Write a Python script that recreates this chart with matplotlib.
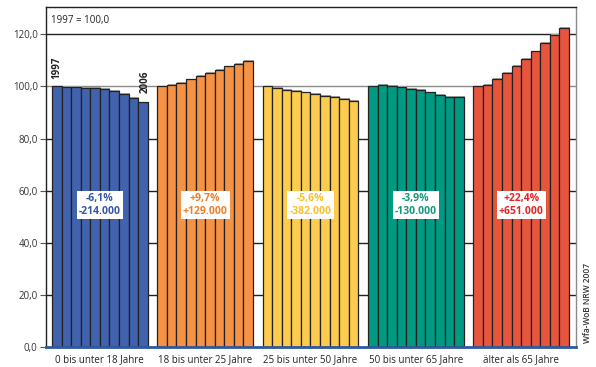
import matplotlib
matplotlib.use("Agg")
import matplotlib.pyplot as plt

plt.rcParams['font.family'] = ['Open Sans', 'DejaVu Sans']

categories = ["0 bis unter 18 Jahre", "18 bis unter 25 Jahre", "25 bis unter 50 Jahre",
              "50 bis unter 65 Jahre", "älter als 65 Jahre"]
years = list(range(1997, 2007))
blue = [100.0, 99.8, 99.8, 99.6, 99.6, 99.1, 98.4, 97.2, 95.7, 93.9]
orange = [100.0, 100.5, 101.3, 102.7, 104.0, 105.2, 106.3, 107.7, 108.7, 109.7]
yellow = [100.0, 99.5, 98.8, 98.2, 97.7, 97.2, 96.5, 95.9, 95.1, 94.4]
teal = [100.0, 100.5, 100.2, 99.8, 99.0, 98.6, 97.7, 96.8, 95.9, 96.1]
red = [100.0, 100.6, 102.8, 105.3, 108.0, 110.5, 113.5, 116.7, 119.9, 122.4]
series = [blue, orange, yellow, teal, red]
pct_labels = ["-6,1%", "+9,7%", "-5,6%", "-3,9%", "+22,4%"]
abs_labels = ["-214.000", "+129.000", "-382.000", "-130.000", "+651.000"]
yticks = [0, 20, 40, 60, 80, 100, 120]
ytick_labels = ["0,0", "20,0", "40,0", "60,0", "80,0", "100,0", "120,0"]

bar_colors = ['#4163ae', '#f59244', '#fdcc4f', '#009a82', '#e8553d']
text_colors = ['#3358a6', '#f07f2a', '#fcbf2a', '#15977f', '#e32629']

fig = plt.figure(figsize=(5.96, 3.67), dpi=100)
ax = fig.add_axes([46/596, 20/367, 530/596, 340/367])

gap = 11
for g, vals in enumerate(series):
    xs = [g * gap + i for i in range(len(vals))]
    # shadow
    ax.bar([x + 0.1 for x in xs], [v + 0.3 for v in vals], width=1.0,
           color='#a8a8a8', edgecolor='none', zorder=2)
    ax.bar(xs, vals, width=1.0, color=bar_colors[g], edgecolor='#222222',
           linewidth=0.9, zorder=3)
    cx = g * gap + 4.5
    ax.text(cx, 54.5, pct_labels[g] + "\n" + abs_labels[g], ha='center', va='center',
            fontsize=7.5, fontweight='bold', color=text_colors[g], linespacing=1.3,
            bbox=dict(facecolor='white', edgecolor='none', pad=1.5), zorder=5)

# year labels
ax.text(0, 102.8, str(years[0]), rotation=90, ha='center', va='bottom',
        fontsize=7, fontweight='bold', color='#222222', zorder=5)
ax.text(9.25, 97.6, str(years[-1]), rotation=90, ha='center', va='bottom',
        fontsize=7, fontweight='bold', color='#222222', zorder=5)

# grid lines
for y in yticks[1:]:
    col = '#8a8a8a' if y == 100 else '#222222'
    ax.axhline(y, color=col, linewidth=1.0, zorder=1)

ax.set_ylim(0, 130.5)
ax.set_xlim(-1.125, 54.23)
ax.set_yticks(yticks)
ax.set_yticklabels(ytick_labels, fontsize=7, color='#333333')
ax.tick_params(axis='y', length=4, width=0.8, color='#555555', pad=2)
ax.set_xticks([g * gap + 4.5 for g in range(5)])
ax.set_xticklabels(categories, fontsize=7, color='#222222')
ax.tick_params(axis='x', length=0, pad=5)

ax.spines['left'].set_color('#222222')
ax.spines['left'].set_linewidth(1.0)
ax.spines['top'].set_color('#222222')
ax.spines['top'].set_linewidth(1.0)
ax.spines['right'].set_color('#8a8a8a')
ax.spines['right'].set_linewidth(1.0)
ax.spines['bottom'].set_color('#2f58a0')
ax.spines['bottom'].set_linewidth(2.0)
ax.spines['bottom'].set_zorder(6)

ax.text(0.01, 0.975, "1997 = 100,0", transform=ax.transAxes, ha='left', va='top',
        fontsize=7, color='#222222')

fig.text(588/596, 1 - 303/367, "Wfa-WoB NRW 2007", rotation=90, ha='center',
         va='center', fontsize=6, fontweight='semibold', color='#333333')

fig.savefig("out.png", dpi=100)
